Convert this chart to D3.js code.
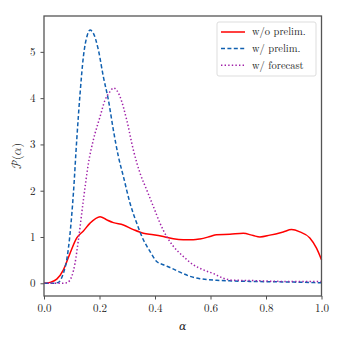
<!DOCTYPE html>
<html>
<head>
<meta charset="utf-8">
<script src="https://cdn.jsdelivr.net/npm/d3@7"></script>
<style>
  body { margin: 0; background: #fff; }
  svg text { font-family: "Latin Modern Roman", "DejaVu Serif", serif; fill: #222; }
</style>
</head>
<body>
<div id="chart"></div>
<script>
// alpha / density samples
const noPrelimAlpha = [0, 0.022, 0.046, 0.07, 0.094, 0.118, 0.142, 0.166, 0.202, 0.226, 0.25, 0.286, 0.322, 0.358, 0.394, 0.43, 0.466, 0.502, 0.538, 0.562, 0.598, 0.622, 0.67, 0.718, 0.754, 0.778, 0.814, 0.862, 0.892, 0.922, 0.958, 0.982, 1.0];
const noPrelimP = [0, 0.02, 0.09, 0.29, 0.65, 0.98, 1.13, 1.30, 1.44, 1.37, 1.31, 1.26, 1.16, 1.08, 1.05, 1.01, 0.96, 0.94, 0.94, 0.957, 1.01, 1.05, 1.06, 1.08, 1.03, 1.00, 1.04, 1.11, 1.16, 1.11, 0.98, 0.76, 0.51];

const prelimAlpha = [0, 0.034, 0.052, 0.07, 0.082, 0.094, 0.106, 0.118, 0.13, 0.142, 0.156, 0.166, 0.178, 0.196, 0.214, 0.232, 0.25, 0.268, 0.286, 0.31, 0.334, 0.358, 0.382, 0.406, 0.43, 0.454, 0.49, 0.526, 0.562, 0.622, 0.682, 0.742, 0.862, 1.0];
const prelimP = [0, 0, 0.02, 0.22, 0.51, 1.08, 1.95, 3.1, 4.1, 4.9, 5.36, 5.47, 5.40, 5.04, 4.46, 3.96, 3.31, 2.74, 2.31, 1.73, 1.30, 0.94, 0.69, 0.47, 0.40, 0.34, 0.24, 0.15, 0.10, 0.065, 0.05, 0.04, 0.03, 0.01];

const forecastAlpha = [0, 0.058, 0.082, 0.1, 0.112, 0.124, 0.142, 0.16, 0.178, 0.202, 0.22, 0.238, 0.25, 0.262, 0.274, 0.298, 0.322, 0.346, 0.37, 0.394, 0.418, 0.442, 0.466, 0.502, 0.538, 0.574, 0.61, 0.646, 0.682, 0.742, 0.862, 1.0];
const forecastP = [0, 0, 0.01, 0.15, 0.44, 0.94, 1.80, 2.59, 3.10, 3.60, 3.96, 4.14, 4.22, 4.17, 4.03, 3.53, 2.88, 2.38, 2.02, 1.66, 1.30, 1.01, 0.80, 0.58, 0.40, 0.29, 0.21, 0.11, 0.065, 0.06, 0.04, 0.04];

const xTicks = [0, 0.2, 0.4, 0.6, 0.8, 1.0];
const yTicks = [0, 1, 2, 3, 4, 5];

const seriesNames = ["w/o prelim.", "w/ prelim.", "w/ forecast"];

const width = 339;
const height = 339;
const margin = { top: 16, right: 17.5, bottom: 43, left: 44 };
const serif = '"Latin Modern Roman", "DejaVu Serif", serif';

const svg = d3
  .select("#chart")
  .append("svg")
  .attr("width", width)
  .attr("height", height);

const x = d3.scaleLinear().domain([0, 1]).range([margin.left, width - margin.right]);
const y = d3.scaleLinear().domain([-0.275, 5.775]).range([height - margin.bottom, margin.top]);

const series = [
  { name: seriesNames[0], xs: noPrelimAlpha, ys: noPrelimP, color: "#ff0000", dash: null },
  { name: seriesNames[1], xs: prelimAlpha, ys: prelimP, color: "#1060b0", dash: "4,2.4" },
  { name: seriesNames[2], xs: forecastAlpha, ys: forecastP, color: "#a020a8", dash: "1.4,2.2" },
];

const line = d3
  .line()
  .x((d) => x(d[0]))
  .y((d) => y(d[1]))
  .curve(d3.curveMonotoneX);

// ------------
// CURVES
// ------------
const plot = svg.append("g");
series.forEach((s) => {
  const pts = s.xs.map((a, i) => [a, s.ys[i]]);
  plot
    .append("path")
    .datum(pts)
    .attr("fill", "none")
    .attr("stroke", s.color)
    .attr("stroke-width", 1.5)
    .attr("stroke-dasharray", s.dash)
    .attr("d", line);
});

// ------------
// AXES
// ------------
const xAxis = svg
  .append("g")
  .attr("transform", `translate(0,${height - margin.bottom})`)
  .call(d3.axisBottom(x).tickValues(xTicks).tickFormat(d3.format(".1f")).tickSize(3.5).tickPadding(5));

const yAxis = svg
  .append("g")
  .attr("transform", `translate(${margin.left},0)`)
  .call(d3.axisLeft(y).tickValues(yTicks).tickFormat(d3.format("d")).tickSize(3.5).tickPadding(5));

[xAxis, yAxis].forEach((ax) => {
  ax.attr("font-family", serif);
  ax.select(".domain").remove();
  ax.selectAll("line").attr("stroke", "#222").attr("stroke-width", 0.8);
  ax.selectAll("text")
    .attr("font-family", serif)
    .style("font-size", "11px")
    .attr("fill", "#222");
});

// frame
svg
  .append("rect")
  .attr("x", margin.left)
  .attr("y", margin.top)
  .attr("width", width - margin.left - margin.right)
  .attr("height", height - margin.top - margin.bottom)
  .attr("fill", "none")
  .attr("stroke", "#555")
  .attr("stroke-width", 1.3);

// axis labels
svg
  .append("text")
  .attr("x", (margin.left + width - margin.right) / 2)
  .attr("y", 330)
  .attr("text-anchor", "middle")
  .style("font-size", "11px")
  .style("font-style", "italic")
  .text("α");

svg
  .append("text")
  .attr("transform", `translate(21,${(margin.top + height - margin.bottom) / 2}) rotate(-90)`)
  .attr("text-anchor", "middle")
  .style("font-family", '"Latin Modern Math", "Latin Modern Roman", serif')
  .style("font-size", "12px")
  .text("𝒫(𝛼)");

// ------------
// LEGEND
// ------------
const legend = svg.append("g").attr("transform", "translate(217,22)");
legend
  .append("rect")
  .attr("width", 99)
  .attr("height", 54)
  .attr("rx", 2)
  .attr("fill", "#fff")
  .attr("fill-opacity", 0.8)
  .attr("stroke", "#ddd")
  .attr("stroke-width", 1);

series.forEach((s, i) => {
  const ry = 10 + i * 16.6;
  legend
    .append("line")
    .attr("x1", 4)
    .attr("x2", 28)
    .attr("y1", ry)
    .attr("y2", ry)
    .attr("stroke", s.color)
    .attr("stroke-width", 1.5)
    .attr("stroke-dasharray", s.dash);
  legend
    .append("text")
    .attr("x", 35)
    .attr("y", ry)
    .attr("dy", "0.32em")
    .style("font-size", "10.5px")
    .text(s.name);
});
</script>
</body>
</html>
